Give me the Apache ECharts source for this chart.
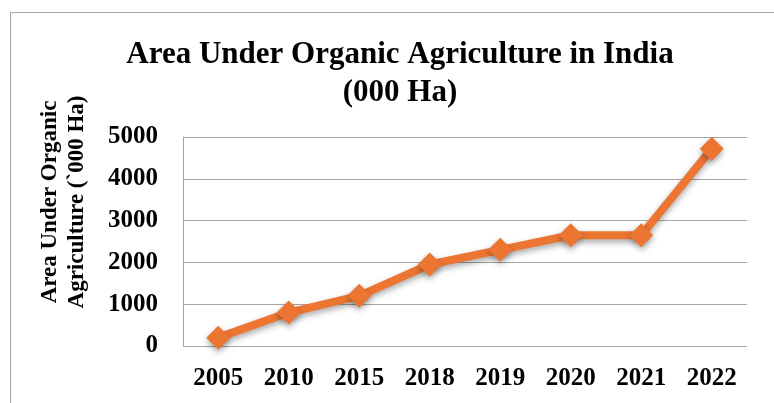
<!DOCTYPE html>
<html><head><meta charset="utf-8">
<script src="https://cdn.jsdelivr.net/npm/echarts@6/dist/echarts.min.js"></script>
<style>html,body{margin:0;padding:0;background:#fff}#c{width:774px;height:403px}</style>
</head><body><div id="c"></div>
<script>
const categories = ['2005','2010','2015','2018','2019','2020','2021','2022'];
const areaValues = [200, 800, 1200, 1950, 2300, 2650, 2650, 4720];
const yTicks = [0, 1000, 2000, 3000, 4000, 5000];
const titleText = 'Area Under Organic Agriculture in India\n(000 Ha)';
const yName = 'Area Under Organic\nAgriculture (`000 Ha)';

const serif = '"Liberation Serif", "DejaVu Serif", serif';
const chart = echarts.init(document.getElementById('c'));
chart.setOption({
  animation: false,
  graphic: [{
    type: 'polyline',
    shape: { points: [[10.5, 403], [10.5, 12.5], [774, 12.5]] },
    style: { stroke: '#a6a6a6', lineWidth: 1, fill: null }
  }, {
    type: 'text',
    x: 64, y: 202, rotation: Math.PI / 2,
    style: {
      text: yName, fontFamily: serif, fontWeight: 'bold', fontSize: 23, lineHeight: 27,
      fill: '#000', align: 'center', verticalAlign: 'middle'
    }
  }],
  title: {
    text: titleText,
    left: 395, top: 31, textAlign: 'center',
    textStyle: { fontFamily: serif, fontWeight: 'bold', fontSize: 31, lineHeight: 38, color: '#000' }
  },
  grid: { left: 183, right: 27, top: 137, bottom: 57, containLabel: false },
  xAxis: {
    type: 'category', data: categories, boundaryGap: true,
    axisLine: { show: false }, axisTick: { show: false },
    axisLabel: { fontFamily: serif, fontWeight: 'bold', fontSize: 25, color: '#000', margin: 20 }
  },
  yAxis: {
    type: 'value', min: yTicks[0], max: yTicks[yTicks.length - 1], interval: 1000,
    axisLine: { show: true, lineStyle: { color: '#a6a6a6' } },
    axisTick: { show: false },
    axisLabel: { fontFamily: serif, fontWeight: 'bold', fontSize: 25, color: '#000', margin: 25,
      formatter: v => String(v) },
    splitLine: { lineStyle: { color: '#a6a6a6', width: 1 } }
  },
  series: [{
    type: 'line', data: areaValues,
    symbol: 'diamond', symbolSize: 24,
    lineStyle: { color: '#ec7532', width: 8, shadowColor: 'rgba(0,0,0,0.35)', shadowBlur: 6, shadowOffsetY: 3 },
    itemStyle: { color: '#ec7532', shadowColor: 'rgba(0,0,0,0.35)', shadowBlur: 6, shadowOffsetY: 3 }
  }]
});
</script></body></html>
